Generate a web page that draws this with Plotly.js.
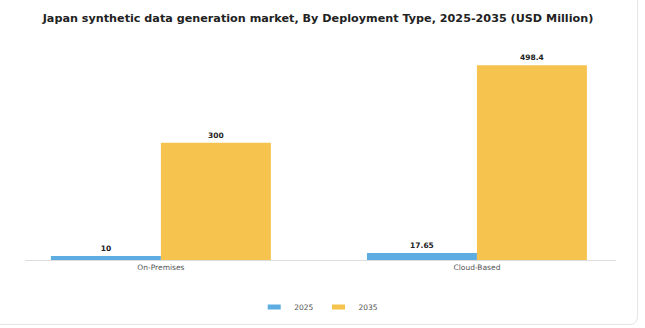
<!DOCTYPE html>
<html>
<head>
<meta charset="utf-8">
<script src="https://cdn.plot.ly/plotly-3.0.1.min.js"></script>
<style>
html,body{margin:0;padding:0;background:#fff;overflow:hidden;}
#frame{position:absolute;left:-10px;top:-10px;width:648px;height:335px;border:1px solid #e6e6e6;border-radius:8px;box-sizing:border-box;pointer-events:none;z-index:5;}
#chart{position:absolute;left:0;top:0;width:645px;height:328px;}
</style>
</head>
<body>
<div id="chart"></div>
<div id="frame"></div>
<script>
const categories = ["On-Premises", "Cloud-Based"];
const seriesNames = ["2025", "2035"];
const values2025 = [10, 17.65];
const values2035 = [300, 498.4];

const colors = ["#5DADE2", "#F6C34F"];
const valueSets = [values2025, values2035];

const traces = seriesNames.map((name, i) => ({
  type: "bar",
  name: name,
  x: categories,
  y: valueSets[i],
  marker: {color: colors[i]},
  text: valueSets[i].map(v => "<b>" + v + "</b>"),
  textposition: "outside",
  textfont: {family: "DejaVu Sans", size: 7.5, color: "#222"},
  cliponaxis: false,
  hoverinfo: "skip"
}));

const layout = {
  width: 645,
  height: 328,
  margin: {l: 25, r: 29, t: 45, b: 68, autoexpand: false},
  paper_bgcolor: "#fff",
  plot_bgcolor: "#fff",
  font: {family: "DejaVu Sans", color: "#444"},
  title: {
    text: "<b>Japan synthetic data generation market, By Deployment Type, 2025-2035 (USD Million)</b>",
    font: {family: "DejaVu Sans", size: 11.2, color: "#222"},
    x: 0.493, xanchor: "center",
    y: 1 - 18/328, yanchor: "middle", yref: "container"
  },
  barmode: "group",
  bargap: 0.304,
  bargroupgap: 0,
  xaxis: {
    type: "category",
    range: [-0.43, 1.44],
    showline: true, linecolor: "#dddddd", linewidth: 1,
    ticks: "", showgrid: false,
    tickfont: {family: "DejaVu Sans", size: 7.5, color: "#555"},
    fixedrange: true
  },
  yaxis: {
    range: [0, 550],
    visible: false, showgrid: false, zeroline: false,
    fixedrange: true
  },
  showlegend: true,
  legend: {
    orientation: "h",
    x: 0.497, xanchor: "center",
    yref: "container",
    y: 1 - 307/328, yanchor: "middle",
    font: {family: "DejaVu Sans", size: 7.5, color: "#555"},
    itemwidth: 30,
    traceorder: "normal"
  }
};

Plotly.newPlot("chart", traces, layout, {displayModeBar: false, staticPlot: true}).then(gd => {
  gd.querySelectorAll(".legendpoints path").forEach(p => {
    p.setAttribute("d", "M6.5,2.5H-6.5V-2.5H6.5Z");
  });
});
</script>
</body>
</html>
